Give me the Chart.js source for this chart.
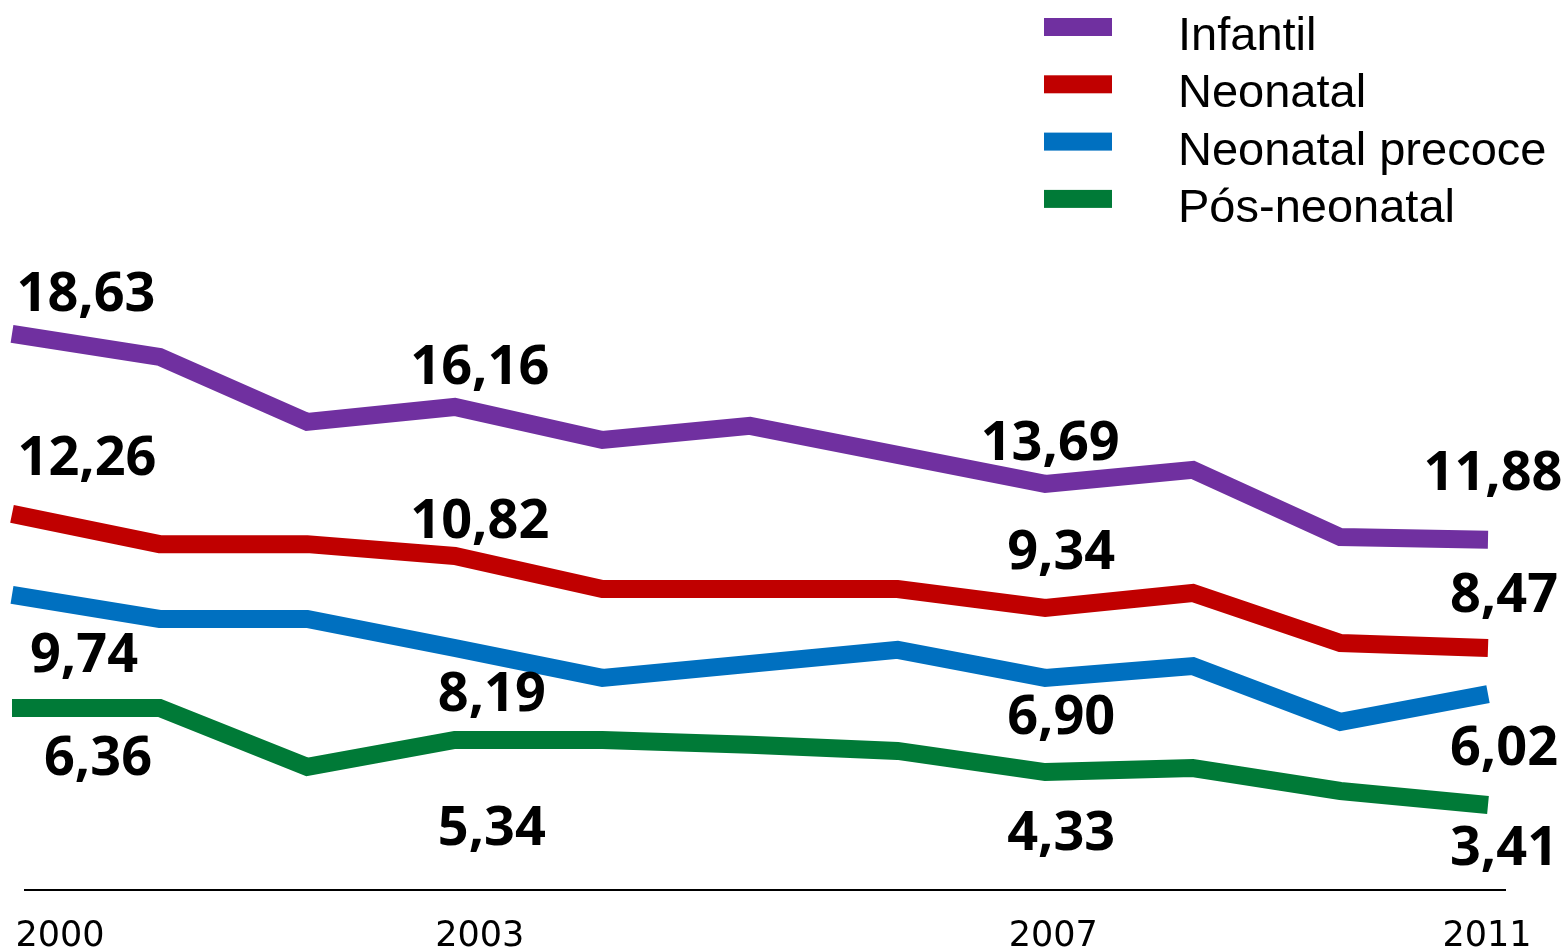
<!DOCTYPE html>
<html>
<head>
<meta charset="utf-8">
<script src="https://cdn.jsdelivr.net/npm/chart.js@4.4.0/dist/chart.umd.min.js"></script>
<style>
  html, body { margin: 0; padding: 0; background: #fff; }
  #wrap { width: 1567px; height: 952px; position: relative; }
</style>
</head>
<body>
<div id="wrap"><canvas id="mortalityChart"></canvas></div>
<script>
// --- DATA ---
const years = ['2000', '2001', '2002', '2003', '2004', '2005', '2006', '2007', '2008', '2009', '2011'];
const tickYears = ['2000', '2003', '2007', '2011'];

const infantil        = [18.43, 17.68, 15.55, 16.04, 14.96, 15.42, 14.47, 13.52, 13.98, 11.78, 11.69];
const neonatal        = [12.54, 11.55, 11.55, 11.16, 10.08, 10.08, 10.08, 9.46, 9.95, 8.31, 8.15];
const neonatalPrecoce = [9.89, 9.10, 9.10, 8.15, 7.17, 7.63, 8.09, 7.17, 7.56, 5.73, 6.64];
const posNeonatal     = [6.19, 6.19, 4.26, 5.14, 5.14, 4.98, 4.78, 4.09, 4.22, 3.47, 3.01];

// printed values next to the lines
const infantilLabels        = ['18,63', null, null, '16,16', null, null, null, '13,69', null, null, '11,88'];
const neonatalLabels        = ['12,26', null, null, '10,82', null, null, null, '9,34', null, null, '8,47'];
const neonatalPrecoceLabels = ['9,74', null, null, '8,19', null, null, null, '6,90', null, null, '6,02'];
const posNeonatalLabels     = ['6,36', null, null, '5,34', null, null, null, '4,33', null, null, '3,41'];

// --- STYLE ---
const COLORS = {
    infantil: '#7030A0',
    neonatal: '#C00000',
    precoce: '#0070C0',
    pos: '#007A37'
};

// offset of each printed value from its point, in px [dx, dy to text centre]
const LABEL_OFFSETS = {
    infantil: [[74, -42], [25, -42], [5, -43], [5, -69]],
    neonatal: [[75, -58], [25, -37], [16, -58], [16, -55]],
    precoce:  [[72, 58], [37, 44], [16, 37], [16, 52]],
    pos:      [[86, 48], [37, 86], [16, 59], [16, 41]]
};

const TICK_OFFSETS = { '2000': 48, '2003': 25, '2007': 8, '2011': -1 };

function makeDataset(label, data, color, valueLabels, offsets) {
    return {
        label: label,
        data: data,
        borderColor: color,
        backgroundColor: color,
        borderWidth: 18,
        borderJoinStyle: 'miter',
        borderCapStyle: 'butt',
        tension: 0,
        pointRadius: 0,
        fill: false,
        clip: false,
        valueLabels: valueLabels,
        labelOffsets: offsets
    };
}

// --- OVERLAY: axis line, year ticks, legend, value labels ---
const overlayPlugin = {
    id: 'overlay',
    afterDatasetsDraw(chart) {
        const { ctx, chartArea } = chart;
        const xScale = chart.scales.x;
        ctx.save();

        // baseline
        ctx.strokeStyle = '#000';
        ctx.lineWidth = 2;
        ctx.beginPath();
        ctx.moveTo(chartArea.left + 12, chartArea.bottom - 7);
        ctx.lineTo(chartArea.right + 18, chartArea.bottom - 7);
        ctx.stroke();

        // year ticks
        ctx.fillStyle = '#000';
        ctx.font = '35px "DejaVu Sans"';
        ctx.textAlign = 'center';
        ctx.textBaseline = 'alphabetic';
        years.forEach((y, i) => {
            if (!tickYears.includes(y)) return;
            ctx.fillText(y, xScale.getPixelForValue(i) + TICK_OFFSETS[y], 946);
        });

        // legend
        ctx.textAlign = 'left';
        ctx.font = '47px "Liberation Sans"';
        chart.data.datasets.forEach((ds, i) => {
            const base = 50 + i * 57.3;
            ctx.fillStyle = ds.borderColor;
            ctx.fillRect(1044, base - 32, 68, 18);
            ctx.fillStyle = '#000';
            ctx.fillText(ds.label, 1178, base);
        });

        // value labels
        const size = 54;
        ctx.font = `bold ${size}px "Open Sans"`;
        ctx.textAlign = 'center';
        ctx.fillStyle = '#000';
        chart.data.datasets.forEach((ds, di) => {
            const meta = chart.getDatasetMeta(di);
            let k = 0;
            ds.valueLabels.forEach((txt, i) => {
                if (!txt) return;
                const pt = meta.data[i];
                const off = ds.labelOffsets[k++];
                ctx.fillText(txt, pt.x + off[0], pt.y + off[1] + size * 0.357);
            });
        });

        ctx.restore();
    }
};

// --- CHART ---
const chart = new Chart(document.getElementById('mortalityChart'), {
    type: 'line',
    data: {
        labels: years,
        datasets: [
            makeDataset('Infantil', infantil, COLORS.infantil, infantilLabels, LABEL_OFFSETS.infantil),
            makeDataset('Neonatal', neonatal, COLORS.neonatal, neonatalLabels, LABEL_OFFSETS.neonatal),
            makeDataset('Neonatal precoce', neonatalPrecoce, COLORS.precoce, neonatalPrecoceLabels, LABEL_OFFSETS.precoce),
            makeDataset('Pós-neonatal', posNeonatal, COLORS.pos, posNeonatalLabels, LABEL_OFFSETS.pos)
        ]
    },
    options: {
        responsive: true,
        maintainAspectRatio: false,
        animation: false,
        layout: { padding: { left: 12, right: 79, top: 11, bottom: 55 } },
        plugins: { legend: { display: false }, tooltip: { enabled: false } },
        scales: {
            x: { display: false },
            y: { display: false, min: 0, max: 29 }
        }
    },
    plugins: [overlayPlugin]
});
</script>
</body>
</html>
